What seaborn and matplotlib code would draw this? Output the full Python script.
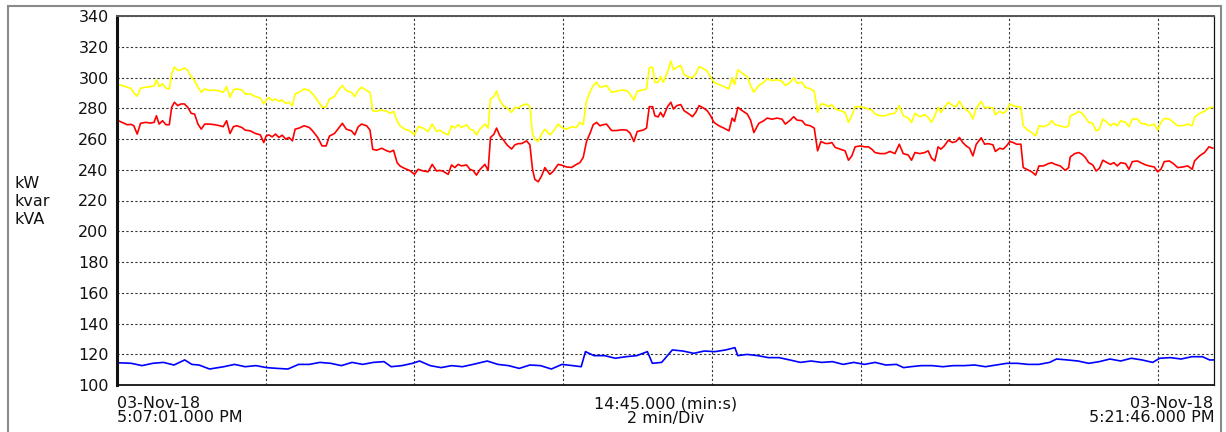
import numpy as np
import pandas as pd
import matplotlib
matplotlib.use("Agg")
import matplotlib.pyplot as plt
import seaborn as sns
from matplotlib.patches import Rectangle

# Elapsed seconds after 5:07:01 PM for the kVA / kW trend
t_main = [
    0.0, 4.1, 8.2, 11.4, 13.6, 16.3, 19.0, 23.1, 27.2, 29.9, 31.8, 34.0, 36.7, 39.5, 42.2,
    44.1, 46.3, 49.0, 51.7, 54.4, 57.1, 59.9, 62.6, 65.3, 68.0, 70.7, 74.8, 78.9, 83.0, 85.7,
    88.4, 91.2, 93.9, 96.6, 100.7, 103.4, 107.5, 111.6, 115.6, 118.4, 120.3, 122.4, 125.2,
    127.9, 130.6, 133.3, 136.1, 138.8, 141.5, 143.7, 146.9, 151.0, 155.1, 157.8, 161.9, 165.4,
    168.7, 171.4, 175.5, 178.2, 181.8, 185.0, 189.1, 191.8, 194.6, 197.3, 201.4, 204.1, 206.3,
    209.5, 213.6, 217.7, 220.4, 223.1,
    226.0, 228.2, 232.2, 236.2, 240.0, 243.0, 247.0, 251.0, 254.3, 257.8, 260.4, 263.1, 267.2,
    269.9, 272.5, 275.2, 277.9, 282.0, 284.7, 287.3, 290.0, 292.7, 296.8, 299.4, 301.3, 304.0,
    306.2, 308.9, 311.6, 314.8, 318.3, 321.0, 323.7, 326.4, 330.4, 333.1, 335.2, 337.1, 339.8,
    342.5, 345.2, 349.2, 351.9, 355.9, 358.6, 362.7, 366.7, 370.7, 373.4, 376.1, 378.8, 381.5,
    384.2, 386.9, 389.6, 392.3, 394.9, 399.0, 403.0, 407.0, 411.1, 413.8, 417.0, 419.7, 424.5,
    427.2, 429.4, 432.1, 433.9, 436.6, 438.5, 440.7,
    444.1, 446.8, 448.9, 451.6, 454.8, 457.5, 461.5, 464.2, 466.9, 469.6, 473.0, 476.2, 478.9,
    481.6, 485.6, 489.6, 493.7, 496.3, 498.2, 500.9, 504.4, 508.4, 511.1, 513.8, 517.8, 521.8,
    524.5, 528.5, 532.5, 536.5, 539.2, 543.2, 545.9, 548.6, 552.6, 555.3, 559.3, 562.5, 565.2,
    567.9, 571.4, 574.0, 576.7, 579.4, 583.4, 587.4, 590.1, 592.8, 595.5, 599.5, 603.5, 606.2,
    608.9, 611.5, 615.6, 619.6, 623.6, 627.6, 631.1, 634.3, 638.3, 641.0, 643.7, 647.7, 651.7,
    654.4, 657.1, 659.8, 662.4,
    664.7, 667.4, 670.7, 674.2, 676.9, 679.6, 682.3, 685.1, 687.8, 690.5, 693.2, 697.2, 700.0,
    702.7, 706.7, 708.6, 712.1, 714.9, 717.6, 720.3, 723.0, 725.7, 729.2, 731.1, 733.8, 737.9,
    741.1, 743.8, 747.4, 751.4, 754.1, 756.8, 760.9, 765.0, 767.7, 769.0, 772.6, 775.8, 778.5,
    781.2, 783.9, 787.2, 789.9, 792.6, 795.3, 798.8, 801.5, 804.2, 807.0, 809.7, 813.7, 816.4,
    819.1, 823.2, 825.9, 830.0, 832.7, 836.8, 839.5, 842.2, 844.9, 849.0, 852.2, 855.7, 859.8,
    863.8, 867.4, 869.3, 873.3, 877.4, 880.9, 884.2,
]

# Apparent power, kVA (yellow)
kva = [
    295.4, 294.8, 293.7, 292.8, 290.0, 287.8, 293.0, 293.7, 294.1, 294.5, 298.5, 294.1, 295.9, 293.0, 292.6,
    302.4, 306.8, 304.6, 305.0, 306.3, 304.6, 300.2, 298.0, 293.7, 290.4, 292.6, 291.5, 291.9, 291.1, 290.4,
    294.1, 287.1, 291.9, 292.6, 291.9, 289.3, 289.3, 287.6, 286.7, 282.8, 285.0, 287.1, 285.0,
    286.0, 284.5, 285.4, 283.2, 283.9, 281.7, 289.3, 290.4, 292.6, 291.5, 289.3, 285.0, 280.6,
    281.0, 286.0, 287.6, 291.5, 294.8, 291.5, 290.4, 287.6, 291.5, 293.7, 291.5, 290.4, 278.4,
    278.0, 278.9, 278.0, 276.7, 278.0,
    271.9, 268.6, 266.4, 265.3, 262.7, 268.0, 267.1, 264.9, 269.7, 264.9, 265.8, 264.2, 262.7,
    268.6, 267.1, 269.3, 267.5, 269.3, 266.4, 265.8, 262.7, 266.4, 269.7, 267.1, 286.0, 287.6,
    291.1, 285.0, 281.7, 280.2, 277.3, 280.6, 280.2, 281.7, 282.8, 281.0, 263.2, 259.9, 258.4,
    263.2, 266.4, 262.7, 264.9, 269.7, 267.5, 266.4, 268.0, 267.5, 270.8, 269.3, 285.0, 290.4,
    294.8, 296.9, 293.7, 294.1, 294.8, 290.4, 291.1, 291.9, 291.5, 289.3, 285.4, 291.1, 291.9,
    292.6, 306.3, 306.8, 296.9, 296.9, 300.7, 296.9,
    303.5, 310.7, 305.0, 306.6, 307.9, 301.8, 300.2, 299.8, 302.4, 307.2, 305.7, 304.1, 300.2,
    296.9, 295.4, 294.1, 292.6, 299.8, 295.4, 305.0, 302.8, 300.7, 294.8, 290.4, 294.8, 296.9,
    299.1, 298.0, 298.5, 297.6, 294.8, 296.9, 299.8, 296.3, 296.9, 293.7, 292.6, 291.1, 277.3,
    282.8, 282.4, 281.0, 282.4, 279.5, 278.4, 277.3, 270.8, 275.1, 281.0, 281.0, 280.2, 279.5,
    278.9, 276.3, 275.1, 275.1, 276.3, 276.7, 281.7, 275.1, 273.6, 270.8, 276.7, 274.5, 275.8,
    274.1, 270.8, 275.1, 280.6,
    277.3, 280.6, 283.9, 281.7, 281.0, 284.5, 281.0, 278.9, 277.3, 273.0, 280.2, 284.5, 280.2,
    280.6, 280.2, 275.8, 278.0, 276.7, 278.4, 282.8, 281.7, 281.0, 281.0, 268.6, 266.4, 264.2,
    262.0, 268.6, 268.0, 269.3, 271.9, 269.3, 268.6, 267.5, 268.6, 275.1, 276.2, 278.0, 276.7,
    274.1, 270.8, 270.2, 265.3, 266.4, 273.0, 270.8, 268.6, 270.2, 268.6, 271.9, 270.8, 268.0,
    273.0, 273.0, 270.2, 269.7, 268.6, 269.7, 265.8, 270.8, 273.4, 273.0, 270.8, 268.6, 268.6,
    269.7, 268.6, 274.1, 276.7, 278.0, 280.2, 280.6,
]

# Active power, kW (red)
kw = [
    272.3, 270.8, 269.3, 269.5, 268.6, 263.2, 270.2, 270.8, 270.4, 270.8, 275.1, 269.7, 271.9, 269.3, 269.3,
    280.6, 283.9, 281.7, 282.8, 282.8, 280.6, 276.7, 276.2, 269.7, 266.4, 269.7, 269.7, 269.3, 268.6, 268.0,
    271.9, 263.6, 268.0, 268.6, 267.5, 265.8, 265.3, 263.6, 262.7, 257.7, 261.9, 262.7, 261.4,
    263.2, 261.0, 262.5, 259.9, 261.0, 258.8, 266.4, 267.1, 268.6, 267.5, 265.3, 261.0, 255.5,
    255.5, 261.9, 263.6, 266.4, 270.2, 266.4, 265.3, 262.7, 268.0, 269.7, 268.6, 265.8, 253.3,
    252.7, 254.0, 252.3, 251.6, 252.7,
    244.6, 242.5, 240.8, 239.5, 237.0, 240.3, 239.2, 238.7, 243.5, 239.2, 239.6, 239.0, 237.0,
    243.1, 241.4, 243.5, 242.5, 243.1, 240.3, 239.5, 236.5, 240.0, 243.5, 239.6, 261.0, 263.0,
    267.1, 262.0, 259.5, 256.0, 253.5, 256.2, 257.0, 257.0, 258.8, 256.2, 240.3, 233.7, 232.2,
    235.9, 241.4, 237.0, 239.0, 243.5, 243.0, 241.8, 241.5, 243.5, 244.6, 248.0, 258.4, 263.5,
    269.3, 270.8, 268.6, 269.3, 269.7, 265.5, 265.5, 266.0, 265.8, 264.0, 258.4, 264.9, 265.8,
    267.1, 281.0, 281.0, 275.1, 274.4, 277.3, 274.4,
    281.0, 283.9, 279.5, 281.7, 282.4, 278.4, 276.3, 274.5, 277.3, 281.7, 280.2, 278.4, 275.1,
    270.8, 268.6, 267.1, 265.3, 273.6, 271.4, 280.6, 278.4, 276.3, 272.3, 264.2, 270.2, 271.9,
    273.6, 272.9, 273.6, 272.9, 269.7, 272.3, 274.5, 272.3, 271.9, 269.3, 268.6, 267.1, 252.3,
    258.4, 257.1, 257.1, 257.7, 254.5, 253.4, 252.3, 246.2, 249.0, 254.9, 255.5, 254.9, 254.9,
    253.4, 251.2, 250.5, 250.5, 251.9, 250.5, 256.6, 250.5, 249.6, 246.2, 251.2, 250.5, 251.2,
    252.3, 247.5, 245.7, 254.9,
    253.4, 255.5, 259.2, 257.7, 258.4, 261.0, 257.7, 255.5, 254.0, 249.0, 256.6, 260.8, 256.6,
    257.0, 256.2, 251.9, 254.0, 253.4, 255.5, 258.4, 257.7, 256.6, 256.6, 241.4, 240.3, 238.7,
    236.5, 242.5, 242.5, 244.0, 244.6, 243.5, 242.5, 239.6, 241.4, 248.3, 250.5, 251.2, 250.1,
    248.0, 244.6, 243.1, 239.2, 241.0, 246.2, 244.6, 243.5, 244.6, 242.5, 244.6, 244.0, 240.3,
    245.3, 245.7, 244.6, 243.1, 242.5, 241.8, 238.7, 240.3, 245.3, 245.7, 244.0, 241.4, 241.8,
    242.5, 240.3, 245.7, 249.0, 251.2, 254.9, 254.0,
]

# Elapsed seconds for the kvar trend
t_kvar = [
    0.0, 11.6, 20.2, 28.8, 37.4, 46.0, 54.6, 60.4, 66.1, 74.7, 86.2, 94.8, 103.4, 112.1, 120.7,
    129.3, 137.9, 146.5, 155.1, 163.7, 172.4, 181.0, 189.6, 198.2, 206.8, 215.4, 221.2, 229.8,
    238.4, 244.1, 252.7, 261.4, 270.0, 278.6, 287.2, 298.7, 307.3, 315.9, 324.5, 333.1, 341.7,
    350.4, 359.0, 367.6, 374.5, 377.9, 384.8, 393.4, 402.0, 410.6, 419.3, 427.9, 431.9, 439.4,
    448.0, 456.6, 465.2, 473.8, 482.4, 491.0, 498.5, 500.8, 508.3, 516.9, 525.5, 534.1, 542.7,
    551.3, 559.9, 568.5, 577.2, 585.8, 594.4, 603.0, 611.6, 620.2, 628.8, 634.6, 640.3, 648.9,
    657.6, 666.2, 674.8, 683.4, 692.0, 700.6, 709.2, 717.8, 726.5, 735.1, 743.7, 752.3, 758.0,
    766.6, 775.3, 783.9, 792.5, 801.1, 809.7, 818.3, 826.9, 835.5, 841.3, 849.9, 858.5, 867.1,
    875.7, 881.5, 885.0,
]

# Reactive power, kvar (blue)
kvar = [
    114.5, 114.1, 112.6, 114.1, 114.7, 113.0, 116.3, 113.4, 113.0, 110.4, 111.9, 113.4, 111.9, 112.6, 111.3,
    110.8, 110.4, 113.4, 113.4, 114.7, 114.1, 112.6, 114.7, 113.4, 114.7, 115.2, 111.9, 112.6,
    114.1, 115.6, 112.6, 111.3, 112.6, 111.9, 113.4, 115.6, 113.4, 112.6, 110.8, 113.0, 112.6,
    110.4, 113.4, 112.6, 111.9, 121.7, 119.1, 119.1, 117.4, 118.4, 119.1, 121.7, 114.1, 114.7,
    122.8, 122.1, 120.6, 122.1, 121.7, 122.8, 124.3, 119.1, 119.9, 119.1, 117.8, 117.8, 116.3,
    114.7, 115.6, 114.7, 115.2, 113.4, 114.7, 113.4, 114.7, 113.0, 113.4, 111.3, 111.9, 112.6,
    112.6, 111.9, 112.6, 112.6, 113.0, 111.9, 113.0, 114.1, 114.1, 113.4, 113.4, 114.7, 116.9,
    116.3, 115.6, 114.1, 115.2, 116.9, 115.6, 117.4, 116.3, 114.7, 117.4, 117.8, 116.9, 118.4,
    118.4, 116.3, 116.3,
]

assert len(t_main) == len(kva) == len(kw)
assert len(t_kvar) == len(kvar)

y_ticks = list(range(100, 341, 20))
div_seconds = 120
span_seconds = 885
unit_labels = ["kW", "kvar", "kVA"]
start_label = ["03-Nov-18", "5:07:01.000 PM"]
span_label = ["14:45.000 (min:s)", "2 min/Div"]
end_label = ["03-Nov-18", "5:21:46.000 PM"]

sns.set_style("white")
plt.rcParams["font.family"] = ["DejaVu Sans"]
FS = 11.5
W, H = 1226, 432

main = pd.DataFrame({"t": t_main, "kVA": kva, "kW": kw})
react = pd.DataFrame({"t": t_kvar, "kvar": kvar})

fig = plt.figure(figsize=(W / 100, H / 100), dpi=100)
fig.patch.set_facecolor("white")
x0, x1, ytop, ybot = 117, 1214, 16, 385
ax = fig.add_axes([x0 / W, 1 - ybot / H, (x1 - x0) / W, (ybot - ytop) / H])

sns.lineplot(data=main, x="t", y="kVA", color="#FFFF00", linewidth=1.2, ax=ax)
sns.lineplot(data=main, x="t", y="kW", color="#FF0000", linewidth=1.2, ax=ax)
sns.lineplot(data=react, x="t", y="kvar", color="#0000FF", linewidth=1.2, ax=ax)

ax.set_xlim(0, span_seconds)
ax.set_ylim(100, 340)
ax.set_yticks(y_ticks)
ax.set_yticklabels([str(v) for v in y_ticks], fontsize=FS, color="#111111")
ax.set_xticks(np.arange(div_seconds, span_seconds, div_seconds))
ax.set_xticklabels([])
ax.tick_params(axis="both", length=0, pad=6)
ax.set_xlabel("")
ax.set_ylabel("")
ax.grid(True, color="#333333", linestyle=(0, (2, 2)), linewidth=0.8)

ax.spines["left"].set_linewidth(2.2)
ax.spines["left"].set_color("#111111")
ax.spines["bottom"].set_linewidth(1.3)
ax.spines["bottom"].set_color("#111111")
ax.spines["top"].set_linewidth(1.4)
ax.spines["top"].set_color("#555555")
ax.spines["right"].set_linewidth(0.9)
ax.spines["right"].set_color("#111111")
for s in ax.spines.values():
    s.set_visible(True)

# outer panel frame
fig.add_artist(Rectangle((8 / W, -0.1), (1221 - 8) / W, 1 - 6.5 / H + 0.1,
                         transform=fig.transFigure, fill=False,
                         edgecolor="#8a8a8a", linewidth=1.5))


def put(x, y, s, ha="left"):
    fig.text(x / W, 1 - y / H, s, ha=ha, va="center", fontsize=FS, color="#111111")


for i, lab in enumerate(unit_labels):
    put(14, 184 + 17.5 * i, lab)

put(117, 403, start_label[0])
put(117, 418, start_label[1])
put(666, 404, span_label[0], ha="center")
put(666, 418, span_label[1], ha="center")
put(1213, 403, end_label[0], ha="right")
put(1215, 418, end_label[1], ha="right")

fig.savefig("out.png", dpi=100)
